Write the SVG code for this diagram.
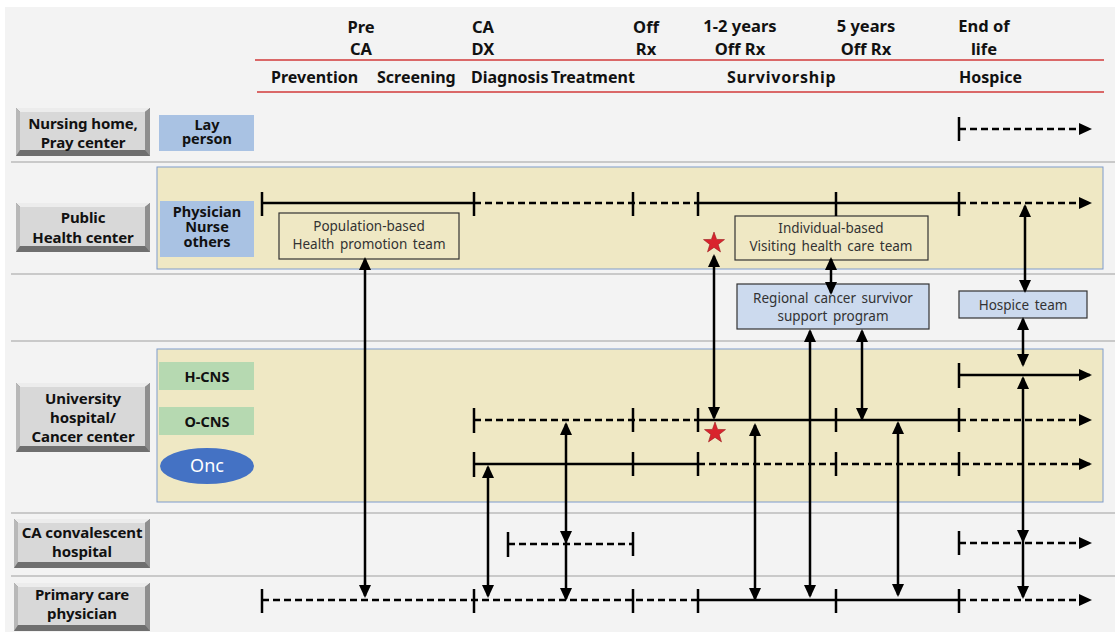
<svg xmlns="http://www.w3.org/2000/svg" width="1115" height="632" viewBox="0 0 1115 632">
<style>
.bg{fill:#f3f3f3}
.sep{stroke:#c9c9c9;stroke-width:2}
.red{stroke:#d23a3a;stroke-width:1.3}
.panel{fill:#efe8c4;stroke:#7f9ccc;stroke-width:1}
.hdr{font-family:"Noto Sans","DejaVu Sans",sans-serif;font-weight:bold;font-size:16.5px;fill:#111;text-anchor:middle}
.ph{font-family:"Noto Sans","DejaVu Sans",sans-serif;font-weight:bold;font-size:16px;fill:#111}
.btn{font-family:"Noto Sans","DejaVu Sans",sans-serif;font-weight:bold;font-size:15px;fill:#111;text-anchor:middle;letter-spacing:-0.1px}
.role{font-family:"Noto Sans","DejaVu Sans",sans-serif;font-weight:bold;font-size:14.5px;fill:#111;text-anchor:middle}
.blue{fill:#a9c2e3}
.green{fill:#b6d9b1}
.team{fill:#efe8c4;stroke:#333;stroke-width:1.2}
.team2{fill:#ccdaee;stroke:#333;stroke-width:1.2}
.tt{font-family:"Noto Sans","DejaVu Sans",sans-serif;font-size:13.5px;fill:#333;text-anchor:middle;word-spacing:2px}
.ln{stroke:#000;stroke-width:2.5;fill:none}
.ds{stroke:#000;stroke-width:2.5;fill:none;stroke-dasharray:7 4}
.tk{stroke:#000;stroke-width:2.5}
.ar{stroke:#000;stroke-width:2.5;fill:none;marker-start:url(#ah);marker-end:url(#ah)}
.star{fill:#d9232d;stroke:#9b1a1f;stroke-width:0.6}
.bt{fill:#ececec}.bl{fill:#b8b8b8}.br{fill:#8f8f8f}.bb{fill:#6f6f6f}.bf{fill:#d8d8d8}
</style>
<defs>
<marker id="ah" markerUnits="userSpaceOnUse" markerWidth="14" markerHeight="12" refX="11" refY="6" orient="auto-start-reverse">
<path d="M0,0 L13,6 L0,12 z" fill="#000"/>
</marker>
<marker id="ae" markerUnits="userSpaceOnUse" markerWidth="14" markerHeight="12" refX="11" refY="6" orient="auto">
<path d="M0,0 L13,6 L0,12 z" fill="#000"/>
</marker>
</defs>
<rect x="0" y="0" width="1115" height="632" fill="#fff"/>
<rect class="bg" x="5" y="7" width="1110" height="625"/>

<g id="header">
<text class="hdr" x="361" y="33">Pre</text>
<text class="hdr" x="361" y="55">CA</text>
<text class="hdr" x="483" y="33">CA</text>
<text class="hdr" x="483" y="55">DX</text>
<text class="hdr" x="646" y="33">Off</text>
<text class="hdr" x="646" y="55">Rx</text>
<text class="hdr" x="740" y="32">1-2 years</text>
<text class="hdr" x="740" y="55">Off Rx</text>
<text class="hdr" x="866" y="32">5 years</text>
<text class="hdr" x="866" y="55">Off Rx</text>
<text class="hdr" x="984" y="32">End of</text>
<text class="hdr" x="984" y="55">life</text>
<line class="red" x1="255" y1="60" x2="1104" y2="60"/>
<line class="red" x1="257" y1="92" x2="1104" y2="92"/>
<text class="ph" x="271" y="83">Prevention</text>
<text class="ph" x="377" y="83">Screening</text>
<text class="ph" x="471" y="83">Diagnosis</text>
<text class="ph" x="551" y="83">Treatment</text>
<text class="ph" x="727" y="83" letter-spacing="0.8">Survivorship</text>
<text class="ph" x="959" y="83">Hospice</text>
</g>

<g id="separators">
<line class="sep" x1="11" y1="162" x2="1115" y2="162"/>
<line class="sep" x1="11" y1="274" x2="1115" y2="274"/>
<line class="sep" x1="11" y1="341" x2="1115" y2="341"/>
<line class="sep" x1="11" y1="513" x2="1115" y2="513"/>
<line class="sep" x1="11" y1="576" x2="1115" y2="576"/>
</g>

<g id="panels">
<rect class="panel" x="157" y="167" width="946" height="102"/>
<rect class="panel" x="157" y="349" width="946" height="153"/>
</g>

<g id="btn-nursing">
<rect class="bb" x="16" y="108" width="134" height="48"/>
<polygon class="bt" points="16,108 150,108 145,112 20,112"/>
<polygon class="bl" points="16,108 20,112 20,150 16,156"/>
<polygon class="br" points="150,108 150,156 145,150 145,112"/>
<rect class="bf" x="20" y="112" width="125" height="38"/>
<text class="btn" x="83" y="129">Nursing home,</text>
<text class="btn" x="83" y="148">Pray center</text>
</g>
<g id="btn-public">
<rect class="bb" x="16" y="203" width="134" height="49"/>
<polygon class="bt" points="16,203 150,203 145,207 20,207"/>
<polygon class="bl" points="16,203 20,207 20,246 16,252"/>
<polygon class="br" points="150,203 150,252 145,246 145,207"/>
<rect class="bf" x="20" y="207" width="125" height="39"/>
<text class="btn" x="83" y="223">Public</text>
<text class="btn" x="83" y="243">Health center</text>
</g>
<g id="btn-univ">
<rect class="bb" x="16" y="383" width="134" height="69"/>
<polygon class="bt" points="16,383 150,383 145,387 20,387"/>
<polygon class="bl" points="16,383 20,387 20,446 16,452"/>
<polygon class="br" points="150,383 150,452 145,446 145,387"/>
<rect class="bf" x="20" y="387" width="125" height="59"/>
<text class="btn" x="83" y="404">University</text>
<text class="btn" x="83" y="423">hospital/</text>
<text class="btn" x="83" y="442">Cancer center</text>
</g>
<g id="btn-conv">
<rect class="bb" x="14" y="519" width="136" height="49"/>
<polygon class="bt" points="14,519 150,519 145,523 18,523"/>
<polygon class="bl" points="14,519 18,523 18,562 14,568"/>
<polygon class="br" points="150,519 150,568 145,562 145,523"/>
<rect class="bf" x="18" y="523" width="127" height="39"/>
<text class="btn" x="82" y="538" letter-spacing="-0.5px">CA convalescent</text>
<text class="btn" x="82" y="557">hospital</text>
</g>
<g id="btn-primary">
<rect class="bb" x="14" y="583" width="136" height="48"/>
<polygon class="bt" points="14,583 150,583 145,587 18,587"/>
<polygon class="bl" points="14,583 18,587 18,625 14,631"/>
<polygon class="br" points="150,583 150,631 145,625 145,587"/>
<rect class="bf" x="18" y="587" width="127" height="38"/>
<text class="btn" x="82" y="600">Primary care</text>
<text class="btn" x="82" y="619">physician</text>
</g>

<g id="role-lay">
<rect class="blue" x="159" y="115" width="95" height="36"/>
<text class="role" x="207" y="130">Lay</text>
<text class="role" x="207" y="144">person</text>
</g>
<g id="role-physician">
<rect class="blue" x="160" y="201" width="94" height="56"/>
<text class="role" x="207" y="217">Physician</text>
<text class="role" x="207" y="232">Nurse</text>
<text class="role" x="207" y="247">others</text>
</g>
<g id="role-hcns">
<rect class="green" x="159" y="362" width="95" height="28"/>
<text class="role" x="207" y="382">H-CNS</text>
</g>
<g id="role-ocns">
<rect class="green" x="159" y="407" width="95" height="28"/>
<text class="role" x="207" y="427">O-CNS</text>
</g>
<g id="role-onc">
<ellipse cx="207" cy="466" rx="47" ry="18" fill="#4472c4"/>
<text x="207" y="472" text-anchor="middle" font-family="Noto Sans, DejaVu Sans, sans-serif" font-size="18" fill="#fff">Onc</text>
</g>

<g id="team-population">
<rect class="team" x="279" y="213" width="180" height="46"/>
<text class="tt" x="369" y="231">Population-based</text>
<text class="tt" x="369" y="249">Health promotion team</text>
</g>
<g id="team-visiting">
<rect class="team" x="735" y="216" width="193" height="44"/>
<text class="tt" x="831" y="233">Individual-based</text>
<text class="tt" x="831" y="251">Visiting health care team</text>
</g>
<g id="team-regional">
<rect class="team2" x="737" y="284" width="192" height="45"/>
<text class="tt" x="833" y="303">Regional cancer survivor</text>
<text class="tt" x="833" y="321">support program</text>
</g>
<g id="team-hospice">
<rect class="team2" x="959" y="291" width="128" height="27"/>
<text class="tt" x="1023" y="310">Hospice team</text>
</g>

<g id="stars">
<polygon class="star" transform="translate(714,243)" points="0,-11 2.6,-3.6 10.5,-3.4 4.2,1.4 6.5,8.9 0,4.4 -6.5,8.9 -4.2,1.4 -10.5,-3.4 -2.6,-3.6"/>
<polygon class="star" transform="translate(715,433)" points="0,-11 2.6,-3.6 10.5,-3.4 4.2,1.4 6.5,8.9 0,4.4 -6.5,8.9 -4.2,1.4 -10.5,-3.4 -2.6,-3.6"/>
</g>

<g id="connectors">
<line class="tk" x1="959" y1="117" x2="959" y2="141"/>
<line class="ds" x1="959" y1="129" x2="1090" y2="129" marker-end="url(#ae)"/>
<line class="ln" x1="262" y1="203" x2="474" y2="203"/>
<line class="ds" x1="474" y1="203" x2="698" y2="203"/>
<line class="ln" x1="698" y1="203" x2="959" y2="203"/>
<line class="ds" x1="959" y1="203" x2="1090" y2="203" marker-end="url(#ae)"/>
<line class="tk" x1="262" y1="192" x2="262" y2="216"/>
<line class="tk" x1="474" y1="192" x2="474" y2="216"/>
<line class="tk" x1="633" y1="192" x2="633" y2="216"/>
<line class="tk" x1="698" y1="192" x2="698" y2="216"/>
<line class="tk" x1="836" y1="192" x2="836" y2="216"/>
<line class="tk" x1="959" y1="192" x2="959" y2="216"/>
<line class="tk" x1="959" y1="363" x2="959" y2="388"/>
<line class="ln" x1="959" y1="375" x2="1090" y2="375" marker-end="url(#ae)"/>
<line class="ds" x1="474" y1="420" x2="698" y2="420"/>
<line class="ln" x1="698" y1="420" x2="959" y2="420"/>
<line class="ds" x1="959" y1="420" x2="1090" y2="420" marker-end="url(#ae)"/>
<line class="tk" x1="474" y1="408" x2="474" y2="433"/>
<line class="tk" x1="633" y1="408" x2="633" y2="432"/>
<line class="tk" x1="698" y1="408" x2="698" y2="432"/>
<line class="tk" x1="836" y1="408" x2="836" y2="432"/>
<line class="tk" x1="959" y1="408" x2="959" y2="432"/>
<line class="ln" x1="474" y1="464" x2="698" y2="464"/>
<line class="ds" x1="698" y1="464" x2="1090" y2="464" marker-end="url(#ae)"/>
<line class="tk" x1="474" y1="452" x2="474" y2="477"/>
<line class="tk" x1="633" y1="452" x2="633" y2="476"/>
<line class="tk" x1="698" y1="452" x2="698" y2="476"/>
<line class="tk" x1="836" y1="452" x2="836" y2="476"/>
<line class="tk" x1="959" y1="452" x2="959" y2="476"/>
<line class="tk" x1="508" y1="532" x2="508" y2="557"/>
<line class="ds" x1="508" y1="544" x2="633" y2="544"/>
<line class="tk" x1="633" y1="532" x2="633" y2="556"/>
<line class="tk" x1="959" y1="531" x2="959" y2="555"/>
<line class="ds" x1="959" y1="543" x2="1090" y2="543" marker-end="url(#ae)"/>
<line class="ds" x1="262" y1="600" x2="698" y2="600"/>
<line class="ln" x1="698" y1="600" x2="959" y2="600"/>
<line class="ds" x1="959" y1="600" x2="1090" y2="600" marker-end="url(#ae)"/>
<line class="tk" x1="262" y1="589" x2="262" y2="613"/>
<line class="tk" x1="474" y1="589" x2="474" y2="613"/>
<line class="tk" x1="633" y1="589" x2="633" y2="613"/>
<line class="tk" x1="698" y1="589" x2="698" y2="613"/>
<line class="tk" x1="836" y1="589" x2="836" y2="613"/>
<line class="tk" x1="959" y1="589" x2="959" y2="613"/>
<line class="ar" x1="365" y1="259" x2="365" y2="596"/>
<line class="ar" x1="488" y1="467" x2="488" y2="596"/>
<path class="ar" d="M566,424 L566,542 L566,599" marker-mid="url(#ae)"/>
<line class="ar" x1="714" y1="256" x2="714" y2="418"/>
<line class="ar" x1="831" y1="259" x2="831" y2="293"/>
<line class="ar" x1="1025" y1="206" x2="1025" y2="291"/>
<line class="ar" x1="810" y1="331" x2="810" y2="596"/>
<line class="ar" x1="862" y1="331" x2="862" y2="419"/>
<line class="ar" x1="755" y1="425" x2="755" y2="599"/>
<line class="ar" x1="898" y1="423" x2="898" y2="595"/>
<line class="ar" x1="1023" y1="319" x2="1023" y2="365"/>
<path class="ar" d="M1023,378 L1023,541 L1023,597" marker-mid="url(#ae)"/>
</g>
</svg>
